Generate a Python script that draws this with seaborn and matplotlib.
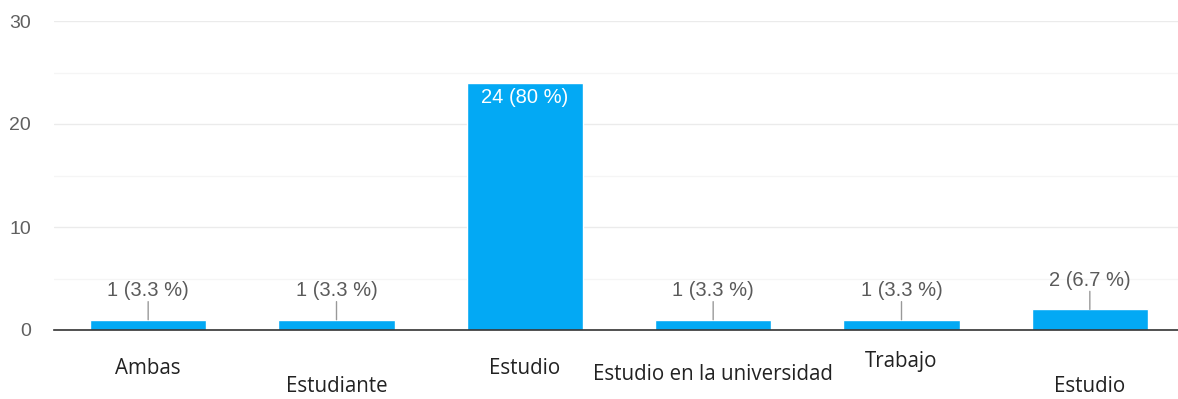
import matplotlib
matplotlib.use("Agg")
import matplotlib.pyplot as plt
import seaborn as sns
import pandas as pd

categories = ["Ambas", "Estudiante", "Estudio", "Estudio en la universidad", "Trabajo", "Estudio"]
counts = [1, 1, 24, 1, 1, 2]
total = sum(counts)
# vertical drop (pixels below the baseline) of each category label
label_drop_px = [38, 56, 38, 44, 31, 57]

sns.set_theme(style="white")
plt.rcParams["font.family"] = ["Liberation Sans", "DejaVu Sans"]

DPI = 100
W, H = 1178, 399
fig = plt.figure(figsize=(W / DPI, H / DPI), dpi=DPI)
ax_left, ax_right = 54, 1184
ax_top, ax_bottom = 21, 330
ax = fig.add_axes([ax_left / W, (H - ax_bottom) / H,
                   (ax_right - ax_left) / W, (ax_bottom - ax_top) / H])

df = pd.DataFrame({"pos": range(len(categories)), "count": counts})
sns.barplot(data=df, x="pos", y="count", color="#03A9F4", saturation=1,
            width=0.616, ax=ax, order=list(range(len(categories))))

ax.set_xlim(-0.5, len(categories) - 0.5)
ax.set_ylim(0, 30)
ax.set_yticks([0, 10, 20, 30])
ax.set_yticks([5, 15, 25], minor=True)
ax.grid(axis="y", which="major", color="#ebebeb", linewidth=1)
ax.grid(axis="y", which="minor", color="#f5f5f5", linewidth=1)
ax.set_axisbelow(True)
for s in ["top", "right", "left"]:
    ax.spines[s].set_visible(False)
ax.spines["bottom"].set_color("#333333")
ax.spines["bottom"].set_linewidth(1.2)
ax.tick_params(axis="y", which="both", length=0, pad=16.5, labelsize=14, labelcolor="#606060")
ax.tick_params(axis="x", length=0)
ax.set_xticks(range(len(categories)))
ax.set_xticklabels([])
ax.set_xlabel("")
ax.set_ylabel("")

# value labels
for i, c in enumerate(counts):
    pct = c / total * 100
    pct_txt = f"{pct:.0f}" if abs(pct - round(pct)) < 1e-9 else f"{pct:.1f}"
    txt = f"{c} ({pct_txt} %)"
    if c >= 10:
        ax.annotate(txt, xy=(i, c), xytext=(0, -10.5), textcoords="offset points",
                    ha="center", va="center", color="white", fontsize=14.5)
    else:
        ax.annotate("", xy=(i, c), xytext=(0, 13), textcoords="offset points",
                    arrowprops=dict(arrowstyle="-", color="#999999", lw=1,
                                    shrinkA=0, shrinkB=0))
        ax.annotate(txt, xy=(i, c), xytext=(0, 21), textcoords="offset points",
                    ha="center", va="center", color="#5a5a5a", fontsize=14.5)

# category labels
for i, (name, drop) in enumerate(zip(categories, label_drop_px)):
    ax.annotate(name, xy=(i, 0), xytext=(0, -drop * 72 / DPI),
                textcoords="offset points", ha="center", va="center",
                color="#222222", fontsize=14.8, family=["Open Sans", "DejaVu Sans"],
                annotation_clip=False)

fig.savefig("out.png", dpi=DPI)
